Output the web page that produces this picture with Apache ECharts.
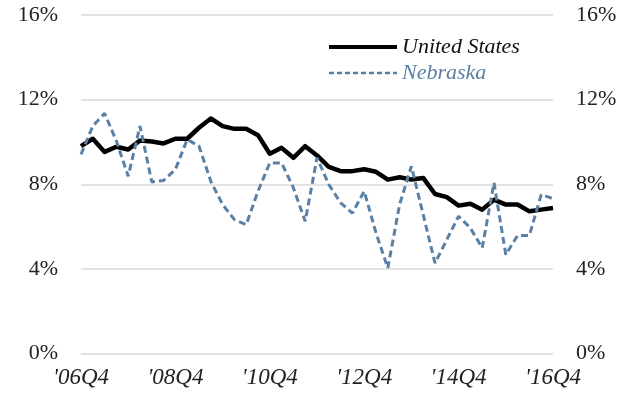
<!DOCTYPE html>
<html>
<head>
<meta charset="utf-8">
<script src="https://cdn.jsdelivr.net/npm/echarts@6/dist/echarts.min.js"></script>
<style>html,body{margin:0;padding:0;background:#fff}#c{width:635px;height:404px}</style>
</head>
<body>
<div id="c"></div>
<script>
const categories = [];
const years = ['06','07','08','09','10','11','12','13','14','15','16'];
// quarterly labels from '06Q4 to '16Q4
categories.push("'06Q4");
for (let y = 1; y < years.length; y++) {
  for (let q = 1; q <= 4; q++) categories.push("'" + years[y] + 'Q' + q);
}
const usValues = [9.8,10.15,9.53,9.77,9.64,10.07,10.02,9.93,10.15,10.15,10.67,11.11,10.75,10.62,10.62,10.32,9.44,9.72,9.25,9.8,9.36,8.82,8.62,8.62,8.71,8.59,8.22,8.33,8.22,8.3,7.54,7.39,6.99,7.08,6.8,7.27,7.04,7.04,6.72,6.8,6.88];
const nebraskaValues = [9.41,10.75,11.35,10.04,8.38,10.75,8.11,8.18,8.7,10.12,9.8,8.14,7.04,6.33,6.09,7.67,9.01,9.01,7.83,6.25,9.25,7.99,7.12,6.64,7.67,5.7,4.04,7.04,8.85,6.56,4.27,5.38,6.49,5.93,4.99,8.07,4.67,5.58,5.58,7.51,7.32];
const yTicks = [0,4,8,12,16];

const chart = echarts.init(document.getElementById('c'));
const serif = "'Liberation Serif', 'DejaVu Serif', serif";
const yAxisBase = {
  type: 'value', min: 0, max: 16, interval: 4,
  axisLine: {show: false}, axisTick: {show: false},
  axisLabel: {formatter: v => v + '%', fontFamily: serif, fontSize: 22, color: '#222', margin: 23}
};
chart.setOption({
  animation: false,
  grid: {left: 81, right: 82, top: 15, bottom: 50.5},
  legend: {
    orient: 'vertical', left: 322, top: 31, itemWidth: 68, itemHeight: 14, itemGap: 4,
    itemStyle: {opacity: 0},
    data: [
      {name: 'United States', textStyle: {color: '#111'}, lineStyle: {width: 4, color: '#000'}},
      {name: 'Nebraska', textStyle: {color: '#5b80a5'}, lineStyle: {width: 2.5, color: '#5b80a5', type: [5, 3]}}
    ],
    textStyle: {fontFamily: serif, fontStyle: 'italic', fontSize: 22}
  },
  xAxis: {
    type: 'category', data: categories, boundaryGap: false,
    axisLine: {show: false}, axisTick: {show: false},
    axisLabel: {interval: 7, fontFamily: serif, fontStyle: 'italic', fontSize: 23, color: '#222', margin: 13}
  },
  yAxis: [
    Object.assign({}, yAxisBase, {position: 'left', splitLine: {lineStyle: {color: '#d9d9d9', width: 1.5}}}),
    Object.assign({}, yAxisBase, {position: 'right', splitLine: {show: false}})
  ],
  series: [
    {name: 'United States', type: 'line', data: usValues, symbol: 'none',
     lineStyle: {color: '#000', width: 4.5, join: 'round'}, itemStyle: {color: '#000'}},
    {name: 'Nebraska', type: 'line', data: nebraskaValues, symbol: 'none',
     lineStyle: {color: '#5b80a5', width: 3, type: [7, 4]}, itemStyle: {color: '#5b80a5'}}
  ]
});
</script>
</body>
</html>
